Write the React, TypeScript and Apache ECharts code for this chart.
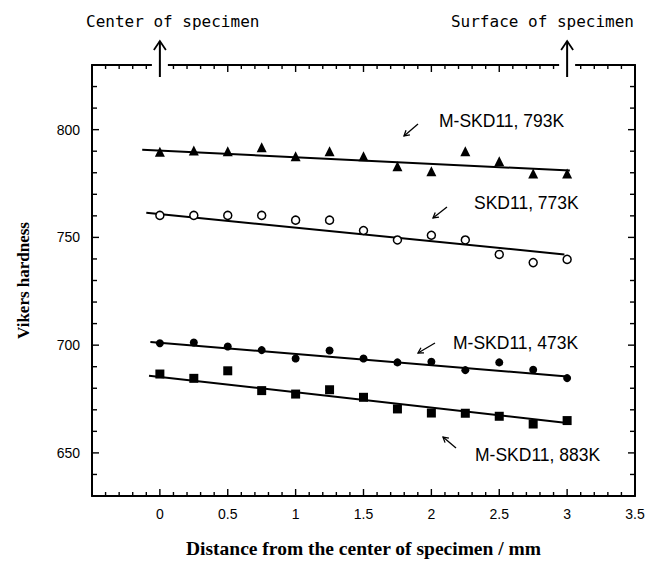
import React, { useEffect, useRef } from "react";
import * as echarts from "echarts";

const xValues = [0, 0.25, 0.5, 0.75, 1, 1.25, 1.5, 1.75, 2, 2.25, 2.5, 2.75, 3];
const hv793 = [789.7, 790.3, 790, 791.8, 787.6, 790, 787.6, 783, 780.7, 790, 785.3, 779.6, 779.6];
const hv773 = [760.2, 760.2, 760.2, 760.2, 758, 758, 753.2, 748.8, 751, 748.8, 742.1, 738.3, 739.8];
const hv473 = [700.9, 701.2, 699.4, 697.7, 693.8, 697.5, 693.8, 692, 692.3, 688.4, 692, 688.6, 684.7];
const hv883 = [686.6, 684.6, 688.1, 678.9, 677.3, 679.3, 675.8, 670.4, 668.5, 668.4, 667, 663.4, 665];

const fit793 = [[-0.13, 790.7], [3.02, 781]];
const fit773 = [[-0.1, 761.4], [2.98, 742.1]];
const fit473 = [[-0.07, 701.5], [3.0, 685.5]];
const fit883 = [[-0.08, 685.8], [3.0, 663.9]];

const seriesNames = ["M-SKD11, 793K", "SKD11, 773K", "M-SKD11, 473K", "M-SKD11, 883K"];
const topLabels = ["Center of specimen", "Surface of specimen"];
const xTitle = "Distance from the center of specimen / mm";
const yTitle = "Vikers hardness";

const X_MIN = -0.5, X_MAX = 3.5, X_MAJOR = 0.5, X_MINOR = 0.1;
const Y_MIN = 630, Y_MAX = 830, Y_TICK = 10, Y_LABEL_STEP = 50;

const pts = (ys: number[]) => xValues.map((x, i) => [x, ys[i]]);

function arrow(fx: number, fy: number, tx: number, ty: number, len = 6) {
  const dx = fx - tx, dy = fy - ty;
  const L = Math.hypot(dx, dy);
  const ux = dx / L, uy = dy / L;
  const a = Math.PI / 6;
  const r = (ang: number) => [tx + len * (ux * Math.cos(ang) - uy * Math.sin(ang)), ty + len * (ux * Math.sin(ang) + uy * Math.cos(ang))];
  return [
    { type: "line", z: 100, shape: { x1: fx, y1: fy, x2: tx, y2: ty }, style: { stroke: "#000", lineWidth: 1.3 } },
    { type: "polyline", z: 100, shape: { points: [r(a), [tx, ty], r(-a)] }, style: { stroke: "#000", lineWidth: 1.3, fill: null } },
  ];
}

export default function App() {
  const ref = useRef<HTMLDivElement>(null);
  useEffect(() => {
    document.body.style.margin = "0";
    const chart = echarts.init(ref.current!, null, { renderer: "svg" });
    const axisLine = { show: true, onZero: false, lineStyle: { color: "#000", width: 2 } };
    const xCommon = {
      type: "value",
      min: X_MIN,
      max: X_MAX,
      interval: X_MAJOR,
      axisLine,
      axisTick: { show: false },
      splitLine: { show: false },
    };
    const yCommon = {
      type: "value",
      min: Y_MIN,
      max: Y_MAX,
      interval: Y_TICK,
      axisLine,
      axisTick: { show: false },
      splitLine: { show: false },
    };
    const line = (d: number[][]) => ({
      type: "line",
      data: d,
      symbol: "none",
      lineStyle: { color: "#000", width: 2 },
      z: 2,
    });
    chart.setOption({
      animation: false,
      backgroundColor: "#fff",
      grid: { left: 92, top: 65, right: 27, bottom: 66 },
      xAxis: [
        {
          ...xCommon,
          position: "bottom",
          name: xTitle,
          nameLocation: "middle",
          nameGap: 42,
          nameTextStyle: { fontFamily: "Liberation Serif", fontWeight: "bold", fontSize: 19.5, color: "#000" },
          axisLabel: {
            show: true,
            margin: 11,
            fontFamily: "Liberation Sans",
            fontSize: 14,
            color: "#000",
            formatter: (v: number) => (v < -1e-9 ? "" : String(Math.round(v * 10) / 10)),
          },
        },
        { ...xCommon, position: "top", axisLabel: { show: false } },
      ],
      yAxis: [
        {
          ...yCommon,
          position: "left",
          name: yTitle,
          nameLocation: "middle",
          nameGap: 60,
          nameTextStyle: { fontFamily: "Liberation Serif", fontWeight: "bold", fontSize: 17, color: "#000" },
          axisLabel: {
            show: true,
            interval: 0,
            margin: 12,
            fontFamily: "Liberation Sans",
            fontSize: 14,
            color: "#000",
            formatter: (v: number) => (Math.round(v) % Y_LABEL_STEP === 0 ? String(Math.round(v)) : ""),
          },
        },
        { ...yCommon, position: "right", axisLabel: { show: false } },
      ],
      series: [
        line(fit793),
        line(fit773),
        line(fit473),
        line(fit883),
        { type: "scatter", name: seriesNames[0], data: pts(hv793), symbol: "triangle", symbolSize: 10, itemStyle: { color: "#000", opacity: 1 }, z: 3 },
        { type: "scatter", name: seriesNames[1], data: pts(hv773), symbol: "circle", symbolSize: 8, itemStyle: { color: "#fff", borderColor: "#000", borderWidth: 1.5, opacity: 1 }, z: 3 },
        { type: "scatter", name: seriesNames[2], data: pts(hv473), symbol: "circle", symbolSize: 8, itemStyle: { color: "#000", opacity: 1 }, z: 3 },
        { type: "scatter", name: seriesNames[3], data: pts(hv883), symbol: "rect", symbolSize: 9, itemStyle: { color: "#000", opacity: 1 }, z: 3 },
      ],
    });

    const toPx = (x: number, y: number) =>
      chart.convertToPixel({ xAxisIndex: 0, yAxisIndex: 0 }, [x, y]) as number[];
    const [L, B] = toPx(X_MIN, Y_MIN);
    const [R, T] = toPx(X_MAX, Y_MAX);
    const tl = (x1: number, y1: number, x2: number, y2: number) => ({
      type: "line",
      z: 99,
      shape: { x1, y1, x2, y2 },
      style: { stroke: "#000", lineWidth: 1.4 },
    });
    const ticks: any[] = [];
    const nX = Math.round((X_MAX - X_MIN) / X_MINOR);
    const perMajor = Math.round(X_MAJOR / X_MINOR);
    for (let i = 1; i < nX; i++) {
      const x = toPx(X_MIN + i * X_MINOR, Y_MIN)[0];
      const len = i % perMajor === 0 ? 7 : 4;
      ticks.push(tl(x, B, x, B - len), tl(x, T, x, T + len));
    }
    const nY = Math.round((Y_MAX - Y_MIN) / Y_TICK);
    for (let j = 1; j < nY; j++) {
      const v = Y_MIN + j * Y_TICK;
      const y = toPx(X_MIN, v)[1];
      const len = v % Y_LABEL_STEP === 0 ? 7 : 5;
      ticks.push(tl(L, y, L + len, y), tl(R, y, R - len, y));
    }

    const x0 = toPx(0, Y_MAX)[0];
    const x3 = toPx(3, Y_MAX)[0];
    const bigArrow = (x: number) => [
      { type: "rect", z: 100, shape: { x: x - 8, y: T - 4, width: 16, height: 12 }, style: { fill: "#fff" } },
      { type: "line", z: 101, shape: { x1: x, y1: 41, x2: x, y2: 77 }, style: { stroke: "#000", lineWidth: 2 } },
      { type: "polyline", z: 101, shape: { points: [[x - 6, 50], [x, 41], [x + 6, 50]] }, style: { stroke: "#000", lineWidth: 1.8, fill: null } },
    ];
    const monoStyle = { fontFamily: "DejaVu Sans Mono", fontSize: 16, fill: "#000" };
    const lblStyle = { fontFamily: "Liberation Sans", fontSize: 17.5, fill: "#000" };
    chart.setOption({
      graphic: [
        ...ticks,
        ...bigArrow(x0),
        ...bigArrow(x3),
        { type: "text", z: 101, x: 86, y: 21, style: { ...monoStyle, text: topLabels[0], textVerticalAlign: "middle" } },
        { type: "text", z: 101, x: 634, y: 21, style: { ...monoStyle, text: topLabels[1], textAlign: "right", textVerticalAlign: "middle" } },
        { type: "text", z: 101, x: 439, y: 121, style: { ...lblStyle, text: seriesNames[0], textVerticalAlign: "middle" } },
        { type: "text", z: 101, x: 474, y: 203, style: { ...lblStyle, text: seriesNames[1], textVerticalAlign: "middle" } },
        { type: "text", z: 101, x: 453, y: 343, style: { ...lblStyle, text: seriesNames[2], textVerticalAlign: "middle" } },
        { type: "text", z: 101, x: 475, y: 455, style: { ...lblStyle, text: seriesNames[3], textVerticalAlign: "middle" } },
        ...arrow(418, 124, 404, 136),
        ...arrow(447, 207, 433, 218),
        ...arrow(435, 343, 418, 353),
        ...arrow(456, 448, 443, 437),
      ],
    });
    return () => chart.dispose();
  }, []);
  return <div ref={ref} style={{ width: 662, height: 563 }} />;
}
